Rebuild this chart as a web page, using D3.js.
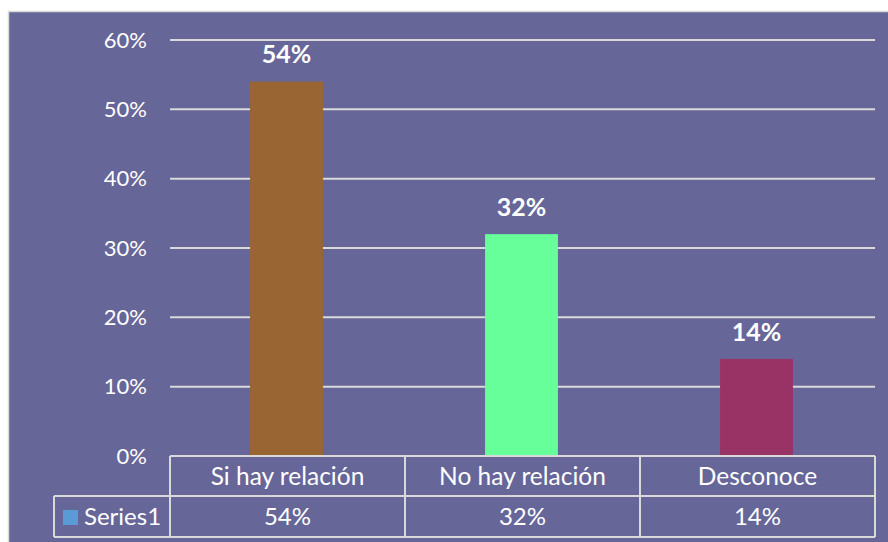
<!DOCTYPE html>
<html>
<head>
<meta charset="utf-8">
<script src="https://cdn.jsdelivr.net/npm/d3@7"></script>
<style>
  body { margin: 0; background: #fff; }
  text { font-family: Lato, "Open Sans", sans-serif; fill: #fff; }
</style>
</head>
<body>
<div id="chart"></div>
<script>
var categories = ["Si hay relación", "No hay relación", "Desconoce"];
var values = [0.54, 0.32, 0.14];
var barColors = ["#996633", "#66FF99", "#993366"];
var tickValues = [0, 0.1, 0.2, 0.3, 0.4, 0.5, 0.6];
var seriesName = "Series1";

var width = 888, height = 542;

var svg = d3.select("#chart")
  .append("svg")
  .attr("width", width)
  .attr("height", height);

// chart area background
svg.append("rect")
  .attr("x", 8.5).attr("y", 11.5)
  .attr("width", width).attr("height", height)
  .attr("fill", "#666699")
  .attr("stroke", "#d9d9d9")
  .attr("stroke-width", 1.5);

var x = d3.scaleBand()
  .domain(categories)
  .range([170, 875])
  .padding(0);

var y = d3.scaleLinear()
  .domain([0, 0.6])
  .range([456, 40]);

var fmt = d3.format(".0%");

// gridlines
svg.append("g")
  .selectAll("line")
  .data(tickValues.filter(function (d) { return d > 0; }))
  .enter()
  .append("line")
    .attr("x1", 170).attr("x2", 875)
    .attr("y1", function (d) { return y(d); })
    .attr("y2", function (d) { return y(d); })
    .attr("stroke", "#d9d9d9")
    .attr("stroke-width", 2);

// y tick labels
svg.append("g")
  .selectAll("text")
  .data(tickValues)
  .enter()
  .append("text")
    .attr("x", 147)
    .attr("y", function (d) { return y(d); })
    .attr("dy", "0.35em")
    .attr("text-anchor", "end")
    .style("font-size", "22px")
    .text(fmt);

// bars
var barW = x.bandwidth() * 0.31;
svg.append("g")
  .selectAll("rect")
  .data(values)
  .enter()
  .append("rect")
    .attr("x", function (d, i) { return x(categories[i]) + x.bandwidth() / 2 - barW / 2 - 1; })
    .attr("y", function (d) { return y(d); })
    .attr("width", barW)
    .attr("height", function (d) { return y(0) - y(d); })
    .attr("fill", function (d, i) { return barColors[i]; });

// data labels
svg.append("g")
  .selectAll("text")
  .data(values)
  .enter()
  .append("text")
    .attr("x", function (d, i) { return x(categories[i]) + x.bandwidth() / 2 - 1; })
    .attr("y", function (d) { return y(d) - 27; })
    .attr("dy", "0.35em")
    .attr("text-anchor", "middle")
    .style("font-size", "25px")
    .style("font-weight", "bold")
    .text(fmt);

// data table
var row1 = 456, row2 = 496, row3 = 537;
var tbl = svg.append("g")
  .attr("stroke", "#d9d9d9")
  .attr("stroke-width", 2)
  .attr("fill", "none");

tbl.append("line").attr("x1", 170).attr("x2", 875).attr("y1", row1).attr("y2", row1);
tbl.append("line").attr("x1", 54).attr("x2", 875).attr("y1", row2).attr("y2", row2);
tbl.append("line").attr("x1", 54).attr("x2", 875).attr("y1", row3).attr("y2", row3);
tbl.append("line").attr("x1", 54).attr("x2", 54).attr("y1", row2).attr("y2", row3);
tbl.selectAll(".col")
  .data(categories.concat(["end"]))
  .enter()
  .append("line")
    .attr("x1", function (d, i) { return i < categories.length ? x(d) : 875; })
    .attr("x2", function (d, i) { return i < categories.length ? x(d) : 875; })
    .attr("y1", row1).attr("y2", row3);

svg.append("g")
  .selectAll("text")
  .data(categories)
  .enter()
  .append("text")
    .attr("x", function (d) { return x(d) + x.bandwidth() / 2; })
    .attr("y", (row1 + row2) / 2)
    .attr("dy", "0.35em")
    .attr("text-anchor", "middle")
    .style("font-size", "24.5px")
    .text(function (d) { return d; });

svg.append("g")
  .selectAll("text")
  .data(values)
  .enter()
  .append("text")
    .attr("x", function (d, i) { return x(categories[i]) + x.bandwidth() / 2; })
    .attr("y", (row2 + row3) / 2)
    .attr("dy", "0.35em")
    .attr("text-anchor", "middle")
    .style("font-size", "24px")
    .text(fmt);

// legend key in table
svg.append("rect")
  .attr("x", 63).attr("y", 510)
  .attr("width", 15).attr("height", 15)
  .attr("fill", "#5B9BD5");
svg.append("text")
  .attr("x", 84)
  .attr("y", (row2 + row3) / 2)
  .attr("dy", "0.35em")
  .style("font-size", "24px")
  .text(seriesName);
</script>
</body>
</html>
